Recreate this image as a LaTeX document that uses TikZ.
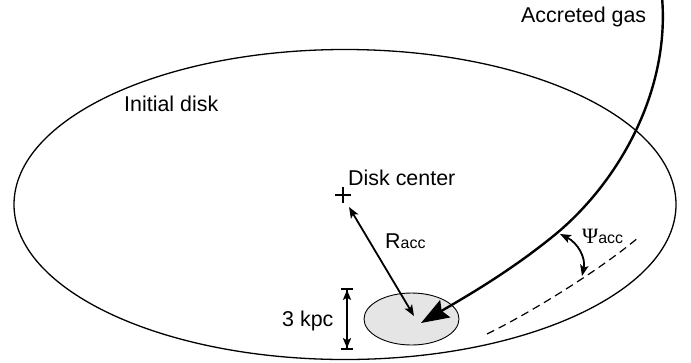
\documentclass[tikz,border=0pt]{standalone}
\usepackage{fontspec}
\setmainfont{Liberation Sans}
\newfontfamily\greekfont{Liberation Serif}
\usetikzlibrary{arrows.meta}
\begin{document}
\begin{tikzpicture}[x=1bp,y=-1bp,
  lbl/.style={anchor=base west, inner sep=0pt, font=\fontsize{21.5}{24}\selectfont},
  twoway/.style={line width=1.8bp, {Stealth[length=11bp,width=8.5bp,inset=2.5bp]}-{Stealth[length=11bp,width=8.5bp,inset=2.5bp]}},
  gasflow/.style={line width=2.4bp, -{Stealth[length=28bp,width=20bp,inset=4bp]}},
  dimline/.style={line width=1.8bp,
    {Bar[width=12bp] Stealth[length=10bp,width=8bp,inset=2bp]}-{Stealth[length=10bp,width=8bp,inset=2bp] Bar[width=12bp]}}]
\useasboundingbox (0,0) rectangle (691,362);

% initial disk outline
\coordinate (disk) at (345,204.5);
\draw[line width=1.3bp] (disk) ellipse [x radius=331, y radius=155];

% accretion patch
\coordinate (patch) at (411.5,319);
\draw[line width=0.9bp, fill=black!10] (patch) ellipse [x radius=47.5, y radius=26];

% disk centre mark
\coordinate (dc) at (343,195);
\draw[line width=1.3bp] ([xshift=-8bp]dc) -- ([xshift=8bp]dc) ([yshift=-8bp]dc) -- ([yshift=8bp]dc);

% labels
\node[lbl] (initial) at (124,111) {Initial disk};
\node[lbl] (center) at (348,185) {Disk center};
\node[lbl] (gas) at (521,22.5) {Accreted gas};
\node[lbl] (kpc) at (282,326) {3 kpc};
\node[lbl] (racc) at (385,248) {R{\fontsize{16}{18}\selectfont acc}};
\node[lbl] (psi) at (582,243) {{\greekfont\fontsize{22}{24}\selectfont\char"03A8}{\fontsize{16}{18}\selectfont acc}};

% radius arrow
\coordinate (rtop) at (349,207);
\coordinate (rbot) at (414,316);
\draw[twoway] (rtop) -- (rbot);

% size of the patch
\coordinate (kt) at (347,288);
\coordinate (kb) at (347,350);
\draw[dimline] (kt) -- (kb);

% infalling gas stream
\coordinate (gtop) at (662,-3);
\coordinate (gmid) at (557,233);
\coordinate (gtip) at (421,323);
\draw[gasflow] (gtop) .. controls (670,90) and (620,180) .. (gmid)
  .. controls (510,272) and (460,300) .. (gtip);

% projected direction in the disk plane
\coordinate (projA) at (487,334);
\coordinate (projB) at (639,237);
\draw[line width=1.2bp, dash pattern=on 8bp off 5bp]
  (projA) .. controls (530,313) and (600,270) .. (projB);

% inclination angle
\coordinate (psiA) at (560,234);
\coordinate (psiB) at (582,276);
\draw[twoway] (psiA) .. controls (578,243) and (586,258) .. (psiB);
\end{tikzpicture}
\end{document}
